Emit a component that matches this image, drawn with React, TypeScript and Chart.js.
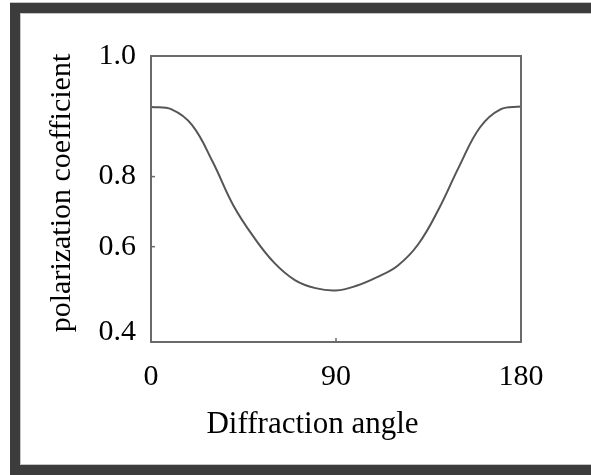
import React, { useEffect, useRef } from "react";
import { Chart, registerables } from "chart.js";

Chart.register(...registerables);

// Diffraction angle (degrees)
const angles = [0, 10, 20, 30, 40, 50, 60, 70, 80, 90, 100, 110, 120, 130, 140, 150, 160, 170, 180];
// Polarization coefficient
const coefficients = [0.893, 0.888, 0.855, 0.778, 0.687, 0.62, 0.566, 0.53, 0.513, 0.508, 0.518, 0.536, 0.56, 0.605, 0.679, 0.769, 0.85, 0.888, 0.894];

const xTickValues = [0, 90, 180];
const yTickValues = [0.42, 0.6, 0.747, 1.0];
const yTickLabels = ["0.4", "0.6", "0.8", "1.0"];

const xTitle = "Diffraction angle";
const yTitle = "polarization coefficient";

const FONT = "'Liberation Serif', 'Times New Roman', serif";

const framePlugin = {
  id: "frame",
  beforeDraw(chart: any) {
    const { ctx, width, height } = chart;
    ctx.save();
    ctx.fillStyle = "#ffffff";
    ctx.fillRect(0, 0, width, height);
    ctx.fillStyle = "#c4c4c4";
    ctx.fillRect(10, 2, width - 10, 1);
    ctx.fillRect(20, 13, width - 20, 1);
    ctx.fillRect(20, 13, 1, 451);
    ctx.fillRect(20, 464, width - 20, 1);
    ctx.fillStyle = "#3c3c3c";
    ctx.fillRect(10, 3, width - 10, 10);
    ctx.fillRect(10, 3, 10, height - 3);
    ctx.fillRect(10, 465, width - 10, 10);
    ctx.restore();
  },
};

const boxPlugin = {
  id: "boxAndTitles",
  afterDatasetsDraw(chart: any) {
    const { ctx, chartArea } = chart;
    const { left, right, top, bottom } = chartArea;
    ctx.save();
    ctx.strokeStyle = "#6a6a6a";
    ctx.lineWidth = 2;
    ctx.strokeRect(left, top, right - left, bottom - top);
    // inner tick marks
    ctx.lineWidth = 1.5;
    const xs = chart.scales.x;
    xs.ticks.forEach((t: any) => {
      const px = xs.getPixelForValue(t.value);
      if (px > left + 2 && px < right - 2) {
        ctx.beginPath();
        ctx.moveTo(px, bottom);
        ctx.lineTo(px, bottom - 4);
        ctx.stroke();
      }
    });
    const ys = chart.scales.y;
    ys.ticks.forEach((t: any) => {
      const py = ys.getPixelForValue(t.value);
      if (py > top + 12 && py < bottom - 12) {
        ctx.beginPath();
        ctx.moveTo(left, py);
        ctx.lineTo(left + 4, py);
        ctx.stroke();
      }
    });
    // axis titles
    ctx.fillStyle = "#000000";
    ctx.font = `31px ${FONT}`;
    ctx.textAlign = "center";
    ctx.textBaseline = "alphabetic";
    ctx.fillText(xTitle, 312.5, 433);
    ctx.font = `30px ${FONT}`;
    ctx.translate(70, 193);
    ctx.rotate(-Math.PI / 2);
    ctx.fillText(yTitle, 0, 0);
    ctx.restore();
  },
};

export default function App() {
  const canvasRef = useRef<HTMLCanvasElement | null>(null);

  useEffect(() => {
    const canvas = canvasRef.current;
    if (!canvas) return;
    const chart = new Chart(canvas, {
      type: "line",
      data: {
        datasets: [
          {
            data: angles.map((a, i) => ({ x: a, y: coefficients[i] })),
            borderColor: "#555555",
            borderWidth: 2,
            pointRadius: 0,
            fill: false,
            tension: 0.4,
          },
        ],
      },
      options: {
        responsive: false,
        animation: false,
        events: [],
        layout: { padding: { top: 56, right: 70, bottom: 0, left: 0 } },
        plugins: { legend: { display: false }, tooltip: { enabled: false }, title: { display: false } },
        scales: {
          x: {
            type: "linear",
            min: 0,
            max: 180,
            grid: { display: false, drawTicks: false },
            border: { display: false },
            afterBuildTicks: (scale: any) => {
              scale.ticks = xTickValues.map((v) => ({ value: v }));
            },
            afterFit: (scale: any) => {
              scale.height = 133;
            },
            ticks: {
              autoSkip: false,
              maxRotation: 0,
              padding: 17,
              color: "#000000",
              font: { family: FONT, size: 30 },
              callback: (v: any) => String(v),
            },
          },
          y: {
            type: "linear",
            min: 0.4,
            max: 1.0,
            grid: { display: false, drawTicks: false },
            border: { display: false },
            afterBuildTicks: (scale: any) => {
              scale.ticks = yTickValues.map((v) => ({ value: v }));
            },
            afterFit: (scale: any) => {
              scale.width = 151;
            },
            ticks: {
              autoSkip: false,
              padding: 15,
              color: "#000000",
              font: { family: FONT, size: 30 },
              callback: (_v: any, i: number) => yTickLabels[i],
            },
          },
        },
      },
      plugins: [framePlugin, boxPlugin],
    });
    return () => chart.destroy();
  }, []);

  return (
    <canvas
      ref={canvasRef}
      width={591}
      height={475}
      style={{ position: "absolute", left: 0, top: 0, width: 591, height: 475, display: "block" }}
    />
  );
}
